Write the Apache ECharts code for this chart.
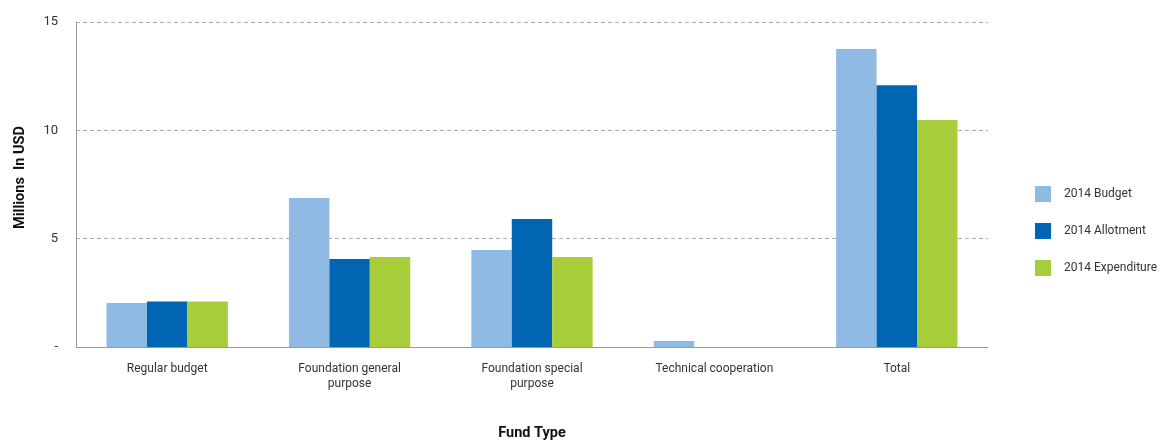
<!DOCTYPE html>
<html><head><meta charset="utf-8">
<script src="https://cdn.jsdelivr.net/npm/echarts@6/dist/echarts.min.js"></script>
<style>html,body{margin:0;padding:0;background:#fff}#c{width:1160px;height:440px}</style>
</head><body><div id="c"></div>
<script>
const categories = ['Regular budget', 'Foundation general\npurpose', 'Foundation special\npurpose', 'Technical cooperation', 'Total'];
const budget2014 = [2.03, 6.88, 4.48, 0.28, 13.75];
const allotment2014 = [2.10, 4.06, 5.91, 0, 12.08];
const expenditure2014 = [2.10, 4.15, 4.15, 0, 10.48];
const yTicks = [0, 5, 10, 15];

const font = 'Roboto, "Open Sans", sans-serif';
const chart = echarts.init(document.getElementById('c'));
chart.setOption({
  animation: false,
  textStyle: { fontFamily: font },
  grid: { left: 76, right: 172, top: 22, bottom: 93, containLabel: false, outerBoundsMode: 'none' },
  legend: {
    orient: 'vertical', left: 1030, top: 181,
    itemWidth: 16, itemHeight: 16, itemGap: 21,
    icon: 'rect',
    textStyle: { fontSize: 12, color: '#333', fontFamily: font, padding: [0, 0, 0, 8] },
    data: ['2014 Budget', '2014 Allotment', '2014 Expenditure']
  },
  xAxis: {
    type: 'category', data: categories,
    name: 'Fund Type', nameLocation: 'middle', nameGap: 79,
    nameTextStyle: { fontWeight: 'bold', fontSize: 14.5, color: '#111', fontFamily: font },
    axisLine: { lineStyle: { color: '#999', width: 1 } },
    axisTick: { show: false },
    axisLabel: { fontSize: 12, color: '#333', margin: 14, lineHeight: 15, interval: 0 }
  },
  yAxis: {
    type: 'value', min: 0, max: 15, interval: 5,
    name: 'Millions  In USD', nameLocation: 'middle', nameGap: 48,
    nameTextStyle: { fontWeight: 'bold', fontSize: 14.5, color: '#111', fontFamily: font, padding: [0, 0, 0, 14] },
    axisLine: { show: true, lineStyle: { color: '#999', width: 1 } },
    axisTick: { show: false },
    axisLabel: { fontSize: 13, color: '#333', margin: 18,
      formatter: v => yTicks.includes(v) ? (v === 0 ? '-' : String(v)) : '' },
    splitLine: { show: true, lineStyle: { color: '#aaa', type: [4, 3], width: 1 } }
  },
  series: [
    { name: '2014 Budget', type: 'bar', data: budget2014, itemStyle: { color: '#8FBAE3' }, barGap: '0%', barCategoryGap: '33.5%' },
    { name: '2014 Allotment', type: 'bar', data: allotment2014, itemStyle: { color: '#0066B3' } },
    { name: '2014 Expenditure', type: 'bar', data: expenditure2014, itemStyle: { color: '#A8CD3A' } }
  ]
});
</script></body></html>
